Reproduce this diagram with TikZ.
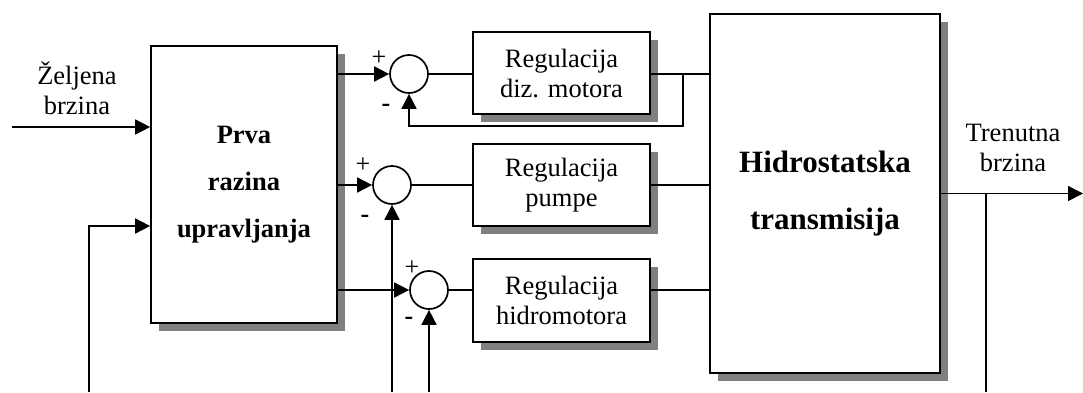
\documentclass[tikz,border=0pt]{standalone}
\usepackage{fontspec}
\setmainfont{Liberation Serif}
\usetikzlibrary{positioning,arrows.meta,calc,shadows}
\tikzset{
  blok/.style={draw,line width=1.7pt,fill=white,align=center,inner sep=0pt,general shadow={fill=black!50,shadow xshift=8pt,shadow yshift=-8pt},font=\fontsize{26.5}{30}\selectfont},
  sum/.style={draw,circle,line width=1.7pt,minimum size=38pt,inner sep=0pt},
  arrow/.style={-{Triangle[length=15pt,width=15pt]},line width=1.7pt},
  wire/.style={line width=1.7pt},
  sign/.style={font=\fontsize{26}{27}\selectfont,inner sep=0pt},
  txt/.style={align=center,inner sep=0pt,font=\fontsize{26.5}{30}\selectfont}
}
\begin{document}
\begin{tikzpicture}[x=1pt,y=-1pt]
  \useasboundingbox (0,0) rectangle (1083,392);
  \coordinate (bottom) at (0,392);
  % main blocks
  \node[blok,minimum width=186pt,minimum height=277pt,font=\fontsize{26.5}{47}\selectfont\bfseries] (prva) at (244,184.5) {Prva\\razina\\upravljanja};
  \node[blok,minimum width=230pt,minimum height=359pt,font=\fontsize{31}{57}\selectfont\bfseries] (hidro) at (825,193.5) {Hidrostatska\\transmisija};
  \node[blok,minimum width=177pt,minimum height=82pt] (motor) at (561.5,73) {Regulacija\\diz. motora};
  \node[blok,minimum width=177pt,minimum height=82pt] (pumpa) at (561.5,185) {Regulacija\\pumpe};
  \node[blok,minimum width=177pt,minimum height=83pt] (hmotor) at (561.5,300.5) {Regulacija\\hidromotora};
  % sum points
  \node[sum] (sum1) at (409,74) {};
  \node[sum] (sum2) at (392,185) {};
  \node[sum] (sum3) at (429,290) {};
  \node[sign] (p1) at (379,58) {+};
  \node[sign] (m1) at (386,108) {\textbf{-}};
  \node[sign] (p2) at (363,165) {+};
  \node[sign] (m2) at (365,219) {\textbf{-}};
  \node[sign] (p3) at (412,268) {+};
  \node[sign] (m3) at (409,321) {\textbf{-}};
  % inputs
  \coordinate (in) at (12,127);
  \coordinate (fbin) at (89,392);
  \node[txt] (zeljena) at (77,88) {Željena\\brzina};
  \draw[arrow] (in) -- (in -| prva.west);
  \draw[arrow] (fbin) |- ([yshift=-41.5pt]prva.west);
  % motor loop
  \draw[arrow] (prva.east |- sum1) -- (sum1.west);
  \draw[wire] (sum1.east) -- (sum1.east -| motor.west);
  \draw[wire] (motor.east |- sum1) -- (sum1 -| hidro.west);
  \coordinate (br1) at (683,74);
  \draw[arrow] (br1) -- ++(0,52) -| (sum1.south);
  % pump loop
  \draw[arrow] (prva.east |- sum2) -- (sum2.west);
  \draw[wire] (sum2.east) -- (pumpa.west);
  \draw[wire] (pumpa.east) -- (pumpa.east -| hidro.west);
  \draw[arrow] (sum2.south |- bottom) -- (sum2.south);
  % hydromotor loop
  \draw[arrow] (prva.east |- sum3) -- (sum3.west);
  \draw[wire] (sum3.east) -- (sum3.east -| hmotor.west);
  \draw[wire] (hmotor.east |- sum3) -- (sum3 -| hidro.west);
  \draw[arrow] (sum3.south |- bottom) -- (sum3.south);
  % output
  \coordinate (out) at (1083,193.5);
  \coordinate (br2) at (986,193.5);
  \node[txt] (trenutna) at (1013,148) {Trenutna\\brzina};
  \draw[arrow] (hidro.east) -- (out);
  \draw[wire] (br2) -- (br2 |- bottom);
\end{tikzpicture}
\end{document}
